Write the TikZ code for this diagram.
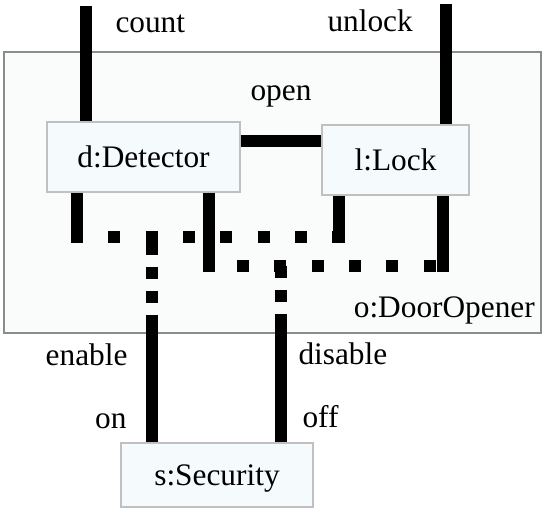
\documentclass[tikz,border=0pt]{standalone}
\usepackage{fontspec}
\setmainfont{Liberation Serif}

\tikzset{every picture/.style={line width=0.75pt}}
\tikzset{
  hostbox/.style={draw={rgb, 255:red, 140; green, 140; blue, 140 }, line width=1.5pt,
    fill={rgb, 255:red, 250; green, 252; blue, 252 }, inner sep=0pt},
  compbox/.style={draw={rgb, 255:red, 192; green, 192; blue, 192 }, line width=1.2pt,
    fill={rgb, 255:red, 245; green, 250; blue, 252 }, inner sep=0pt, text depth=0pt,
    font=\fontsize{23.5pt}{28pt}\selectfont},
  lbl/.style={inner sep=0pt, font=\fontsize{23.5pt}{28pt}\selectfont},
  wire/.style={line width=8.5pt},
  hbind/.style={line width=8.5pt, dash pattern=on 9pt off 19pt, dash phase=4.5pt},
  vbind/.style={line width=8.5pt, dash pattern=on 9pt off 9pt}
}

\begin{document}
\begin{tikzpicture}[x=0.75pt,y=0.75pt,yscale=-1,xscale=1]
	\useasboundingbox (0,0) rectangle (543,509);

	% Composite
	\node [hostbox, minimum width=402.75pt, minimum height=210.75pt] (door) at (272.5,192.5) {};
	\node [lbl, anchor=south east, inner xsep=5pt, inner ysep=7pt] (doorlbl) at (door.south east) {o:DoorOpener};

	% Parts
	\node [compbox, minimum width=144.75pt, minimum height=52.5pt] (det) at (143.5,157) {d:Detector};
	\node [compbox, minimum width=110.25pt, minimum height=52.5pt] (lock) at (395.5,160) {l:Lock};
	\node [compbox, minimum width=144pt, minimum height=48pt] (sec) at (217,475) {s:Security};

	% Port ends
	\coordinate (count) at (86,6);
	\coordinate (unlock) at (446,4);
	\coordinate (open) at (281,141);
	\coordinate (dA) at (77,237);
	\coordinate (dB) at (209,266);
	\coordinate (lA) at (339,237);
	\coordinate (lB) at (443,266);
	\coordinate (en) at (152,315);
	\coordinate (dis) at (281,315);

	% Straight Lines
	\draw [wire] (count) -- (count |- det.north);
	\draw [wire] (unlock) -- (unlock |- lock.north);
	\draw [wire] (det.east |- open) -- (lock.west |- open);
	\draw [wire, shorten >=-4.25pt] (det.south -| dA) -- (dA);
	\draw [wire, shorten >=-4.25pt] (det.south -| dB) -- (dB);
	\draw [wire, shorten >=-4.25pt] (lock.south -| lA) -- (lA);
	\draw [wire, shorten >=-4.25pt] (lock.south -| lB) -- (lB);

	% Bindings
	\draw [hbind] (dA) -- (lA);
	\draw [hbind, dash phase=7pt] (dB) -- (lB);
	\draw [vbind, dash phase=13.5pt] (en |- dA) -- (en);
	\draw [vbind] (dis |- dB) -- (dis);
	\draw [wire] (en) -- (en |- sec.north);
	\draw [wire] (dis) -- (dis |- sec.north);

	% Text Node
	\node [lbl, anchor=base west] (countlbl) at (115,33) {count};
	\node [lbl, anchor=base west] (unlocklbl) at (327,32) {unlock};
	\node [lbl, anchor=base] (openlbl) at (281,101) {open};
	\node [lbl, anchor=base east] (enlbl) at (128,366) {enable};
	\node [lbl, anchor=base east] (onlbl) at (127,429) {on};
	\node [lbl, anchor=base west] (dislbl) at (298,365) {disable};
	\node [lbl, anchor=base west] (offlbl) at (302,428) {off};

\end{tikzpicture}
\end{document}
